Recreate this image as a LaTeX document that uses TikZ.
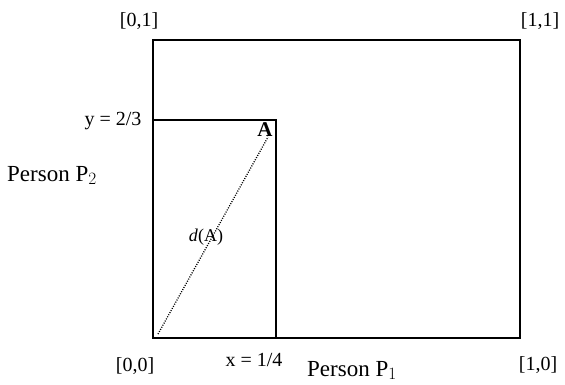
\documentclass[tikz,border=0pt]{standalone}
\usepackage{fontspec}
\setmainfont{Liberation Serif}
\begin{document}
\begin{tikzpicture}[x=1pt,y=-1pt,
  frame/.style={line width=1.5pt},
  lbl/.style={inner sep=0pt,font=\fontsize{20}{24}\selectfont},
  plbl/.style={inner sep=0pt,font=\fontsize{23}{27}\selectfont},
  diag/.style={line width=1.3pt,dash pattern=on 1pt off 1.4pt}]
\useasboundingbox (0,0) rectangle (565,384);
\coordinate (O) at (153,338);
\coordinate (TR) at (520,40);
\coordinate (Acorner) at (276,120);
\coordinate (dstart) at (158,334);
\coordinate (dend) at (268,137);
\draw[frame] (O) rectangle (TR);
\draw[frame] (O) rectangle (Acorner);
\draw[diag] (dstart) -- (dend);
\node[lbl] (l01) at (139,21) {[0,1]};
\node[lbl] (l11) at (540,21) {[1,1]};
\node[lbl] (l00) at (135,366) {[0,0]};
\node[lbl] (l10) at (538,365) {[1,0]};
\node[lbl] (ly) at (113,121) {y = 2/3};
\node[lbl] (lx) at (254,360) {x = 1/4};
\node[plbl,anchor=base west] (p2) at (7,181) {Person P$_2$};
\node[plbl,anchor=base west] (p1) at (307,376) {Person P$_1$};
\node[inner sep=0pt,font=\fontsize{21}{24}\selectfont\bfseries] (A) at (265,130) {A};
\node[inner sep=0pt,font=\fontsize{18}{22}\selectfont] (dA) at (206,237) {\textit{d}(A)};
\end{tikzpicture}
\end{document}
